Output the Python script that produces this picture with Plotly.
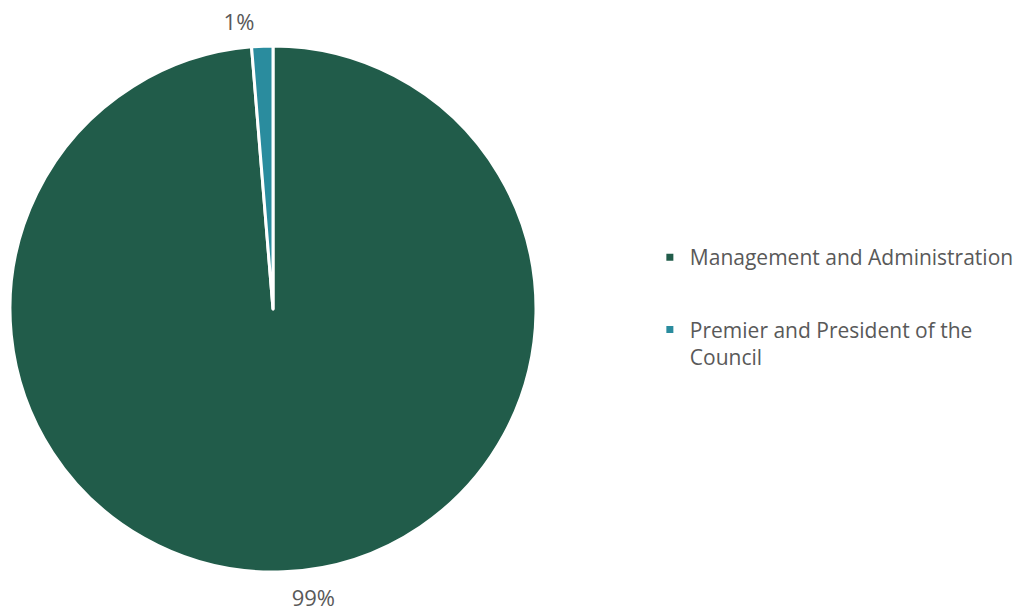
import plotly.graph_objects as go

categories = ["Management and Administration", "Premier and President of the Council"]
legend_labels = ["Management and Administration", "Premier and President of the<br>Council"]
values = [98.7, 1.3]
colors = ["#215C4A", "#2A8C9E"]

W, H = 1017, 615
cx, cy, r = 273, 309, 263
r_lab = 283

fig = go.Figure()
# visible pie (no text)
fig.add_trace(go.Pie(
    labels=categories,
    values=values,
    sort=False,
    direction="clockwise",
    rotation=0,
    marker=dict(colors=colors, line=dict(color="white", width=3)),
    textinfo="none",
    showlegend=False,
    domain=dict(x=[(cx - r) / W, (cx + r) / W], y=[1 - (cy + r) / H, 1 - (cy - r) / H]),
    hoverinfo="label+percent",
))
# transparent overlay pie carrying the outside percentage labels
fig.add_trace(go.Pie(
    labels=categories,
    values=values,
    sort=False,
    direction="clockwise",
    rotation=0,
    marker=dict(colors=["rgba(0,0,0,0)"] * 2, line=dict(width=0)),
    textposition="outside",
    texttemplate="%{percent:.0%}",
    textfont=dict(family="Open Sans", size=22, color="#595959"),
    showlegend=False,
    hoverinfo="skip",
    domain=dict(x=[0, (2 * cx) / W], y=[1 - (cy + r_lab) / H, 1 - (cy - r_lab) / H]),
))

for lab, col in zip(legend_labels, colors):
    fig.add_trace(go.Scatter(
        x=[None], y=[None], mode="markers", name=lab, legendgroup=lab,
        marker=dict(symbol="square", size=7, color=col),
        showlegend=True,
    ))

fig.update_layout(
    width=W, height=H,
    margin=dict(l=0, r=0, t=0, b=0, autoexpand=False),
    paper_bgcolor="white", plot_bgcolor="white",
    xaxis=dict(visible=False), yaxis=dict(visible=False),
    legend=dict(
        x=0.639, y=0.6146, xanchor="left", yanchor="top",
        font=dict(family="Open Sans", size=21, color="#595959"),
        tracegroupgap=42, valign="top", itemwidth=30,
    ),
    font=dict(family="Open Sans"),
)

fig.write_html("out.html")
